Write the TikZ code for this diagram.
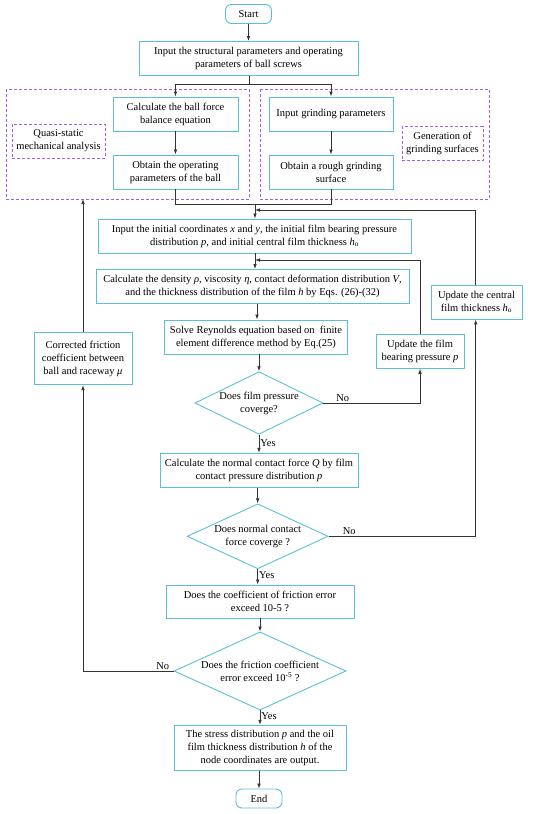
\documentclass[tikz,border=0pt]{standalone}
\usepackage{fontspec}
\setmainfont{Liberation Serif}
\usetikzlibrary{arrows.meta,shapes.geometric}
\definecolor{boxc}{HTML}{5BBFDC}
\definecolor{dashc}{HTML}{A35EE3}
\definecolor{linec}{HTML}{333333}
\tikzset{
  base/.style={font=\fontsize{10.5}{13}\selectfont, align=center, inner sep=1pt},
  pbox/.style={base, draw=boxc, line width=0.9pt, minimum height=34pt},
  term/.style={base, draw=boxc, line width=0.9pt, rounded corners=6pt, minimum height=19pt, minimum width=46pt},
  dec/.style={base, draw=boxc, line width=0.9pt, diamond, aspect=2.05, inner sep=0pt},
  grp/.style={draw=dashc, line width=0.9pt, dash pattern=on 3pt off 2pt},
  lab/.style={base, draw=dashc, line width=0.9pt, dash pattern=on 3pt off 2pt, minimum height=34pt},
  conn/.style={draw=linec, line width=0.8pt},
  arr/.style={conn, -{Latex[length=5pt,width=3.6pt]}},
  yn/.style={font=\fontsize{10.5}{12}\selectfont, inner sep=1pt}
}
\begin{document}
\begin{tikzpicture}[x=1pt,y=-1pt]
\useasboundingbox (0,0) rectangle (550,814);
% groups
\draw[grp] (6,89) rectangle (249,199);
\draw[grp] (260,89) rectangle (489,199);
% nodes
\node[term] (start) at (248.5,14) {Start};
\node[pbox, minimum width=219pt] (inp) at (248.5,58.5) {Input the structural parameters and operating\\parameters of ball screws};
\node[pbox, minimum width=125pt] (bal) at (175.5,114) {Calculate the ball force\\balance equation};
\node[pbox, minimum width=125pt] (opb) at (175.5,172) {Obtain the operating\\parameters of the ball};
\node[lab, minimum width=93pt] (qs) at (58.5,141) {Quasi-static\\mechanical analysis};
\node[pbox, minimum width=124pt] (grd) at (331,114) {Input grinding parameters};
\node[pbox, minimum width=124pt] (rgh) at (331,172) {Obtain a rough grinding\\surface};
\node[lab, minimum width=81pt] (gen) at (442.5,143.5) {Generation of\\grinding surfaces};
\node[pbox, minimum width=313pt] (ini) at (254.5,236) {Input the initial coordinates \textit{x} and \textit{y}, the initial film bearing pressure\\distribution \textit{p}, and initial central film thickness \textit{h}\textsubscript{o}};
\node[pbox, minimum width=313pt] (den) at (252.5,286.5) {Calculate the density \textit{ρ}, viscosity \textit{η}, contact deformation distribution \textit{V},\\and the thickness distribution of the film \textit{h} by Eqs. (26)-(32)};
\node[pbox, minimum width=183pt] (rey) at (256,337) {Solve Reynolds equation based on \ finite\\element difference method by Eq.(25)};
\node[pbox, minimum width=98pt, minimum height=52pt] (cor) at (83,358.7) {Corrected friction\\coefficient between\\ball and raceway \textit{μ}};
\node[pbox, minimum width=91pt] (uct) at (476.5,302) {Update the central\\film thickness \textit{h}\textsubscript{o}};
\node[pbox, minimum width=88pt] (ufp) at (420,351.3) {Update the film\\bearing pressure \textit{p}};
\node[dec, minimum width=128pt, minimum height=62.6pt] (d1) at (259,403) {Does film pressure\\coverge?};
\node[pbox, minimum width=198pt] (ncf) at (259,470.3) {Calculate the normal contact force \textit{Q} by film\\contact pressure distribution \textit{p}};
\node[dec, minimum width=141pt, minimum height=62.6pt] (d2) at (257.7,536.3) {Does normal contact\\force coverge ?};
\node[pbox, minimum width=188pt, minimum height=33pt] (cfe) at (260,601.5) {Does the coefficient of friction error\\exceed 10-5 ?};
\node[dec, minimum width=172pt, minimum height=72pt] (d3) at (260,671) {Does the friction coefficient\\error exceed 10\textsuperscript{-5} ?};
\node[pbox, minimum width=172pt, minimum height=45.5pt] (out) at (260,748) {The stress distribution \textit{p} and the oil\\film thickness distribution \textit{h} of the\\node coordinates are output.};
\node[term] (end) at (259,798.5) {End};
% coordinates
\coordinate (sp) at (249.3,84);
\coordinate (m1) at (255,204.7);
\coordinate (fb1) at (255,210);
\coordinate (fb2) at (255,260);
% connectors
\draw[arr] (start) -- (inp);
\draw[conn] (inp.south -| sp) -- (sp);
\draw[arr] (sp) -| (bal.north);
\draw[arr] (sp) -| (grd.north);
\draw[arr] (bal) -- (opb);
\draw[arr] (grd) -- (rgh);
\draw[conn] (opb.south) |- (m1) -| (rgh.south);
\draw[arr] (m1) -- (ini.north -| m1);
\draw[arr] (uct.north -| 475,0) |- (fb1);
\draw[arr] (ini.south -| fb2) -- (den.north -| fb2);
\draw[arr] (ufp.north) |- (fb2);
\draw[arr] (den.south -| 257,0) -- (rey.north -| 257,0);
\draw[arr] (rey.south -| 259,0) -- (d1.north);
\draw[arr] (d1.east) -| node[yn, pos=0.1, above] {No} (ufp.south);
\draw[arr] (d1.south) -- node[yn, right, pos=0.45] {Yes} (ncf.north -| d1.south);
\draw[arr] (ncf.south -| d2.north) -- (d2.north);
\draw[arr] (d2.east) -| node[yn, pos=0.07, above] {No} (uct.south -| 475.7,0);
\draw[arr] (d2.south) -- node[yn, right, pos=0.4] {Yes} (cfe.north -| d2.south);
\draw[arr] (cfe.south -| d3.north) -- (d3.north);
\draw[arr] (d3.west) -| node[yn, pos=0.06, above] {No} (cor.south);
\draw[arr] (d3.south) -- node[yn, right, pos=0.4] {Yes} (out.north -| d3.south);
\draw[arr] (out.south -| end.north) -- (end.north);
\draw[arr] (cor.north) -- (83,199);
\end{tikzpicture}
\end{document}
